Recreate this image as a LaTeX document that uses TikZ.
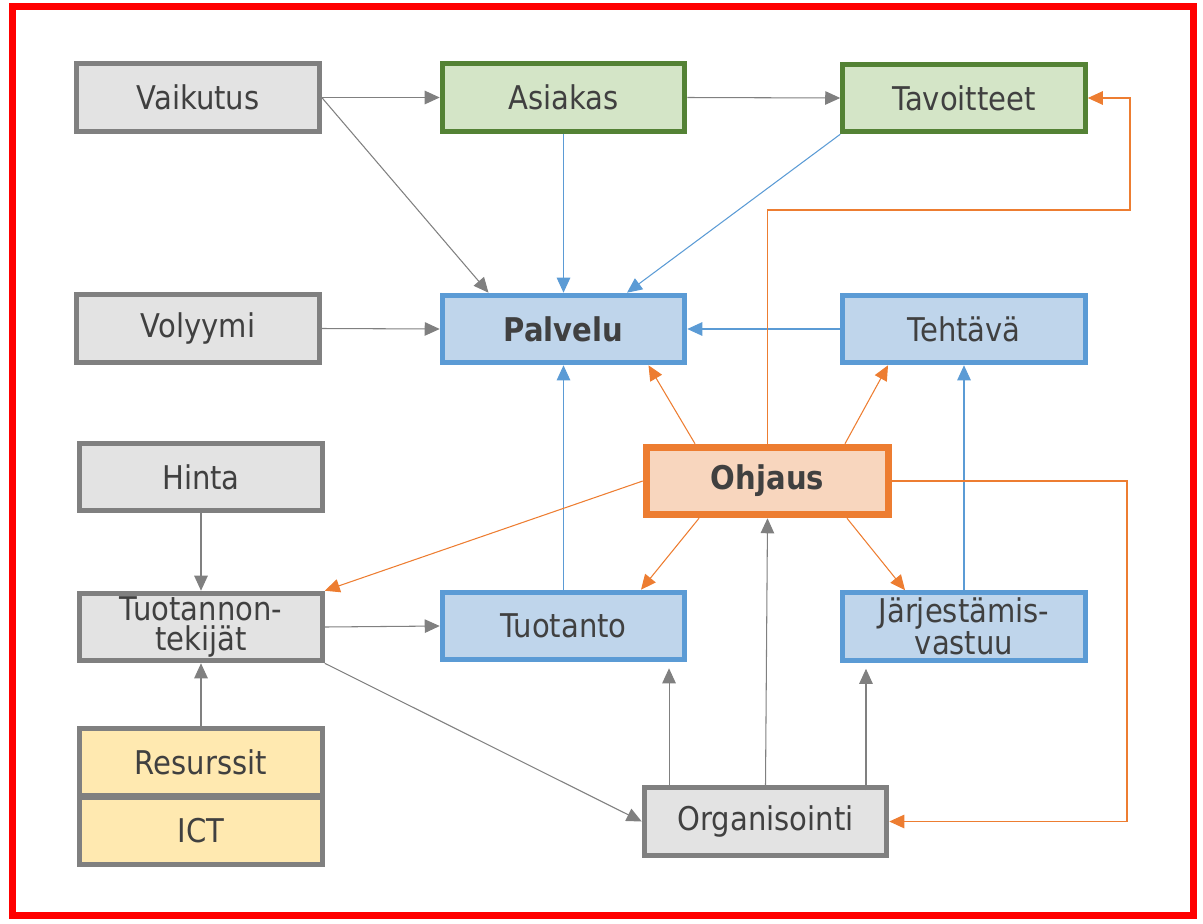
\documentclass[tikz,border=0pt]{standalone}
\usepackage{fontspec}
\setmainfont[FakeStretch=0.89]{DejaVu Sans}
\usepackage{tikz}
\usetikzlibrary{arrows.meta}
\definecolor{textgray}{HTML}{404040}
\definecolor{linegray}{HTML}{808080}
\definecolor{fillgray}{HTML}{E3E3E3}
\definecolor{linegreen}{HTML}{548235}
\definecolor{fillgreen}{HTML}{D4E5C7}
\definecolor{lineblue}{HTML}{5B9BD5}
\definecolor{fillblue}{HTML}{BFD5EB}
\definecolor{lineorange}{HTML}{ED7D31}
\definecolor{fillorange}{HTML}{F8D6BE}
\definecolor{fillyellow}{HTML}{FFE9B0}

\begin{document}
\begin{tikzpicture}[x=0.02cm, y=-0.02cm,
  box/.style={draw, line width=2.9pt, minimum width=4.85cm, minimum height=1.35cm, inner sep=1pt, align=center, text=textgray, font=\fontsize{18.6}{16.8}\selectfont},
  graybox/.style={box, draw=linegray, fill=fillgray},
  greenbox/.style={box, draw=linegreen, fill=fillgreen},
  bluebox/.style={box, draw=lineblue, fill=fillblue},
  yellowbox/.style={box, draw=linegray, fill=fillyellow},
  link/.style={-{Triangle[length=0.3cm, width=0.27cm]}, line width=0.6pt},
  graylink/.style={link, draw=linegray},
  bluelink/.style={link, draw=lineblue},
  orangelink/.style={link, draw=lineorange}]
\useasboundingbox (0,0) rectangle (1203,923);
\draw[red, line width=0.14cm] (12.5,6.5) rectangle (1193.5,915.5);

\node[graybox] (vaikutus) at (198,97.5) {Vaikutus};
\node[greenbox] (asiakas) at (563.5,97.5) {Asiakas};
\node[greenbox] (tavoitteet) at (964,98) {Tavoitteet};
\node[graybox] (volyymi) at (198,328.5) {Volyymi};
\node[bluebox, font=\fontsize{18.6}{16.8}\selectfont\bfseries] (palvelu) at (563.5,329) {Palvelu};
\node[bluebox] (tehtava) at (964,329) {Tehtävä};
\node[graybox] (hinta) at (201,477) {Hinta};
\node[box, line width=4pt, draw=lineorange, fill=fillorange, font=\fontsize{18.6}{16.8}\selectfont\bfseries] (ohjaus) at (767.5,481) {Ohjaus};
\node[graybox] (tuottek) at (201,627) {Tuotannon-\\tekijät};
\node[bluebox] (tuotanto) at (563.5,626) {Tuotanto};
\node[bluebox] (jarj) at (964,626.5) {Järjestämis-\\vastuu};
\node[yellowbox] (resurssit) at (201,762) {Resurssit};
\node[yellowbox] (ict) at (201,831) {ICT};
\node[graybox] (organisointi) at (765.5,821.5) {Organisointi};
\coordinate (tavkulma) at (1130,210);
\coordinate (orgkulma) at (1127,481);

\draw[graylink] (vaikutus.east) -- (asiakas.west);
\draw[graylink] (vaikutus.east) -- ([xshift=-1.5cm]palvelu.north);
\draw[graylink] (asiakas.east) -- (tavoitteet.west);
\draw[graylink] (volyymi.east) -- (palvelu.west);
\draw[graylink] (hinta.south) -- (tuottek.north);
\draw[graylink] (resurssit.north) -- (tuottek.south);
\draw[graylink] (tuottek.east) -- (tuotanto.west);
\draw[graylink] (tuottek.south east) -- (organisointi.west);
\draw[graylink] (organisointi.north) -- (ohjaus.south);
\draw[graylink, shorten >=1.2mm] ([xshift=-1.93cm]organisointi.north) -- ([xshift=-1.93cm]organisointi.north |- tuotanto.south);
\draw[graylink, shorten >=1.2mm] ([xshift=2.01cm, yshift=-1mm]organisointi.north) -- ([xshift=2.01cm]organisointi.north |- jarj.south);

\draw[bluelink] (asiakas.south) -- (palvelu.north);
\draw[bluelink] (tavoitteet.south west) -- ([xshift=1.27cm]palvelu.north);
\draw[bluelink] (tehtava.west) -- (palvelu.east);
\draw[bluelink] (tuotanto.north) -- (palvelu.south);
\draw[bluelink] (jarj.north) -- (tehtava.south);

\draw[orangelink] ([xshift=-1.45cm]ohjaus.north) -- ([xshift=1.7cm]palvelu.south);
\draw[orangelink] ([xshift=1.55cm]ohjaus.north) -- ([xshift=-1.52cm]tehtava.south);
\draw[orangelink] (ohjaus.north) |- (tavkulma) |- (tavoitteet.east);
\draw[orangelink] (ohjaus.west) -- (tuottek.north east);
\draw[orangelink] ([xshift=-1.37cm]ohjaus.south) -- ([xshift=1.55cm]tuotanto.north);
\draw[orangelink] ([xshift=1.59cm]ohjaus.south) -- ([xshift=-1.18cm]jarj.north);
\draw[orangelink] (ohjaus.east) -- (orgkulma) |- (organisointi.east);
\end{tikzpicture}
\end{document}
